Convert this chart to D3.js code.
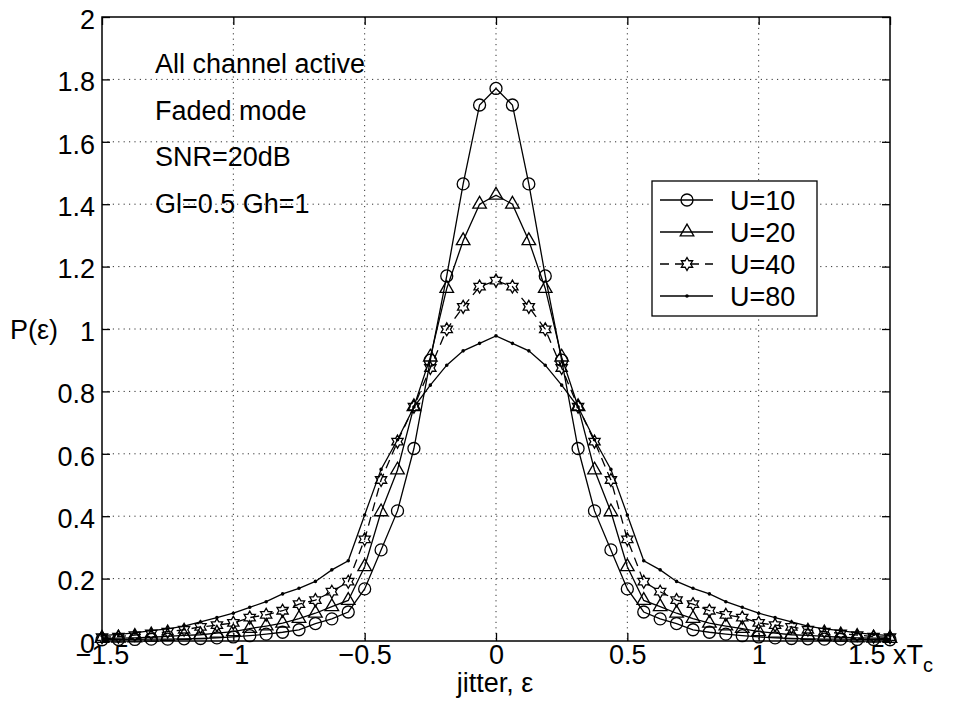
<!DOCTYPE html>
<html>
<head>
<meta charset="utf-8">
<script src="https://cdn.jsdelivr.net/npm/d3@7"></script>
<style>
    body { margin: 0; background: #fff; }
    text { font-family: "Liberation Sans", Arial, sans-serif; fill: #000; }
</style>
</head>
<body>
<div id="chart-area"></div>
<script>
// jitter positions, in units of Tc
const X = [-1.5, -1.4375, -1.375, -1.3125, -1.25, -1.1875, -1.125, -1.0625,
    -1, -0.9375, -0.875, -0.8125, -0.75, -0.6875, -0.625, -0.5625,
    -0.5, -0.4375, -0.375, -0.3125, -0.25, -0.1875, -0.125, -0.0625,
    0, 0.0625, 0.125, 0.1875, 0.25, 0.3125, 0.375, 0.4375,
    0.5, 0.5625, 0.625, 0.6875, 0.75, 0.8125, 0.875, 0.9375,
    1, 1.0625, 1.125, 1.1875, 1.25, 1.3125, 1.375, 1.4375, 1.5];

const U10 = [0.004, 0.005, 0.005, 0.006, 0.006, 0.007, 0.008, 0.010,
    0.013, 0.017, 0.022, 0.028, 0.036, 0.056, 0.071, 0.093,
    0.167, 0.292, 0.417, 0.617, 0.900, 1.170, 1.465, 1.718,
    1.771, 1.718, 1.465, 1.170, 0.900, 0.617, 0.417, 0.292,
    0.167, 0.093, 0.071, 0.056, 0.036, 0.028, 0.022, 0.017,
    0.013, 0.010, 0.008, 0.007, 0.006, 0.006, 0.005, 0.005, 0.004];

const U20 = [0.008, 0.009, 0.010, 0.012, 0.015, 0.018, 0.020, 0.025,
    0.030, 0.040, 0.048, 0.057, 0.072, 0.089, 0.110, 0.130,
    0.238, 0.414, 0.548, 0.751, 0.910, 1.130, 1.283, 1.400,
    1.429, 1.400, 1.283, 1.130, 0.910, 0.751, 0.548, 0.414,
    0.238, 0.130, 0.110, 0.089, 0.072, 0.057, 0.048, 0.040,
    0.030, 0.025, 0.020, 0.018, 0.015, 0.012, 0.010, 0.009, 0.008];

const U40 = [0.012, 0.014, 0.019, 0.024, 0.030, 0.036, 0.045, 0.051,
    0.058, 0.075, 0.084, 0.097, 0.118, 0.131, 0.158, 0.190,
    0.326, 0.516, 0.639, 0.751, 0.875, 0.999, 1.071, 1.136,
    1.155, 1.136, 1.071, 0.999, 0.875, 0.751, 0.639, 0.516,
    0.326, 0.190, 0.158, 0.131, 0.118, 0.097, 0.084, 0.075,
    0.058, 0.051, 0.045, 0.036, 0.030, 0.024, 0.019, 0.014, 0.012];

const U80 = [0.017, 0.021, 0.026, 0.033, 0.039, 0.048, 0.061, 0.075,
    0.089, 0.108, 0.126, 0.151, 0.169, 0.191, 0.228, 0.257,
    0.404, 0.550, 0.645, 0.750, 0.820, 0.884, 0.930, 0.954,
    0.978, 0.954, 0.930, 0.884, 0.820, 0.750, 0.645, 0.550,
    0.404, 0.257, 0.228, 0.191, 0.169, 0.151, 0.126, 0.108,
    0.089, 0.075, 0.061, 0.048, 0.039, 0.033, 0.026, 0.021, 0.017];

const SERIES_NAMES = ["U=10", "U=20", "U=40", "U=80"];
const X_TICKS = [-1.5, -1, -0.5, 0, 0.5, 1, 1.5];
const Y_TICKS = [0, 0.2, 0.4, 0.6, 0.8, 1, 1.2, 1.4, 1.6, 1.8, 2];
const NOTES = ["All channel active", "Faded mode", "SNR=20dB", "Gl=0.5 Gh=1"];

const WIDTH = 963,
    HEIGHT = 707,
    LEFT = 102,
    RIGHT = 890,
    TOP = 17,
    BOTTOM = 641,
    FONT = 27,
    TICK = 8,
    STROKE_LINE = 1.3;

const svg = d3.select("#chart-area")
    .append("svg")
    .attr("width", WIDTH)
    .attr("height", HEIGHT);

const x = d3.scaleLinear().domain([-1.5, 1.5]).range([LEFT, RIGHT]);
const y = d3.scaleLinear().domain([0, 2]).range([BOTTOM, TOP]);

// dotted grid
const grid = svg.append("g")
    .attr("stroke", "#333")
    .attr("stroke-width", 1)
    .attr("stroke-dasharray", "1.2,4.2");
grid.selectAll(".gx")
    .data(X_TICKS.slice(1, -1))
    .join("line")
    .attr("x1", d => x(d)).attr("x2", d => x(d))
    .attr("y1", TOP).attr("y2", BOTTOM);
grid.selectAll(".gy")
    .data(Y_TICKS.slice(1, -1))
    .join("line")
    .attr("y1", d => y(d)).attr("y2", d => y(d))
    .attr("x1", LEFT).attr("x2", RIGHT);

// axes with inward ticks on all four sides
function styleAxis(g) {
    g.select(".domain").remove();
    g.selectAll("line").attr("stroke", "#000").attr("stroke-width", 1.3);
    g.selectAll("text")
        .attr("font-size", FONT)
        .attr("font-family", "'Liberation Sans', Arial, sans-serif")
        .attr("fill", "#000");
}

const xAxis = svg.append("g")
    .attr("transform", `translate(0,${BOTTOM})`)
    .call(d3.axisBottom(x).tickValues(X_TICKS).tickSize(-TICK).tickSizeOuter(0).tickPadding(4)
        .tickFormat(d => d === 1.5 ? "1.5 xT" : d3.format("")(d)))
    .call(styleAxis);

// subscript c on the last tick label
xAxis.selectAll("text")
    .filter(d => d === 1.5)
    .append("tspan")
    .attr("dy", "0.4em")
    .attr("font-size", 20)
    .text("c");

svg.append("g")
    .attr("transform", `translate(${LEFT},0)`)
    .call(d3.axisLeft(y).tickValues(Y_TICKS).tickSize(-TICK).tickSizeOuter(0).tickPadding(7)
        .tickFormat(d3.format("")))
    .call(styleAxis)
    .selectAll("text").attr("dy", "0.42em");

svg.append("g")
    .attr("transform", `translate(0,${TOP})`)
    .call(d3.axisTop(x).tickValues(X_TICKS).tickSize(-TICK).tickSizeOuter(0).tickFormat(""))
    .call(styleAxis);

svg.append("g")
    .attr("transform", `translate(${RIGHT},0)`)
    .call(d3.axisRight(y).tickValues(Y_TICKS).tickSize(-TICK).tickSizeOuter(0).tickFormat(""))
    .call(styleAxis);

// frame
svg.append("rect")
    .attr("x", LEFT).attr("y", TOP)
    .attr("width", RIGHT - LEFT).attr("height", BOTTOM - TOP)
    .attr("fill", "none")
    .attr("stroke", "#000")
    .attr("stroke-width", 1.5);

// marker shapes
function hexagram(r) {
    const pts = [];
    for (let i = 0; i < 12; i++) {
        const a = -Math.PI / 2 + i * Math.PI / 6;
        const rr = i % 2 === 0 ? r : r / Math.sqrt(3);
        pts.push([rr * Math.cos(a), rr * Math.sin(a)]);
    }
    return "M" + pts.map(p => p.join(",")).join("L") + "Z";
}

const MARKERS = [
    d3.symbol().type(d3.symbolCircle).size(Math.PI * 36)(),
    d3.symbol().type(d3.symbolTriangle).size(80)(),
    hexagram(6.5),
    d3.symbol().type(d3.symbolCircle).size(Math.PI * 3.2)()
];
const MARKER_FILL = ["none", "none", "none", "#000"];
const DASHES = [null, null, "9,6", null];

const series = [U10, U20, U40, U80].map((vals, i) => ({
    name: SERIES_NAMES[i],
    marker: MARKERS[i],
    fill: MARKER_FILL[i],
    dash: DASHES[i],
    points: vals.map((v, j) => ({x: X[j], y: v}))
}));

const line = d3.line().x(d => x(d.x)).y(d => y(d.y));

const plot = svg.append("g");

plot.selectAll(".series-line")
    .data(series)
    .join("path")
    .attr("class", "series-line")
    .attr("d", d => line(d.points))
    .attr("fill", "none")
    .attr("stroke", "#000")
    .attr("stroke-width", STROKE_LINE)
    .attr("stroke-dasharray", d => d.dash);

plot.selectAll(".series-marks")
    .data(series)
    .join("g")
    .attr("class", "series-marks")
    .each(function(s) {
        d3.select(this)
            .selectAll("path")
            .data(s.points)
            .join("path")
            .attr("transform", d => `translate(${x(d.x)},${y(d.y)})`)
            .attr("d", s.marker)
            .attr("fill", s.fill)
            .attr("stroke", "#000")
            .attr("stroke-width", s.fill === "none" ? 1.3 : 0);
    });

// annotation text
svg.append("g")
    .selectAll("text")
    .data(NOTES)
    .join("text")
    .attr("x", 155)
    .attr("y", (d, i) => 73 + i * 46.7)
    .attr("font-size", FONT)
    .text(d => d);

// axis titles
svg.append("text")
    .attr("x", 495)
    .attr("y", 692)
    .attr("text-anchor", "middle")
    .attr("font-size", FONT)
    .text("jitter, \u03b5");

svg.append("text")
    .attr("x", 10)
    .attr("y", 339)
    .attr("font-size", FONT)
    .text("P(\u03b5)");

// legend
const LEG_X = 652, LEG_Y = 181, LEG_W = 165, LEG_H = 135, ROW = 32;
const legend = svg.append("g");
legend.append("rect")
    .attr("x", LEG_X).attr("y", LEG_Y)
    .attr("width", LEG_W).attr("height", LEG_H)
    .attr("fill", "#fff")
    .attr("stroke", "#000")
    .attr("stroke-width", 1.3);

const rows = legend.selectAll(".row")
    .data(series)
    .join("g")
    .attr("class", "row")
    .attr("transform", (d, i) => `translate(0,${LEG_Y + 19 + i * ROW})`);

rows.append("line")
    .attr("x1", LEG_X + 8).attr("x2", LEG_X + 61)
    .attr("y1", 0).attr("y2", 0)
    .attr("stroke", "#000")
    .attr("stroke-width", STROKE_LINE)
    .attr("stroke-dasharray", d => d.dash);

rows.append("path")
    .attr("transform", `translate(${LEG_X + 35},0)`)
    .attr("d", d => d.marker)
    .attr("fill", d => d.fill)
    .attr("stroke", "#000")
    .attr("stroke-width", d => d.fill === "none" ? 1.3 : 0);

rows.append("text")
    .attr("x", LEG_X + 78)
    .attr("y", 10)
    .attr("font-size", 27)
    .text(d => d.name);
</script>
</body>
</html>
